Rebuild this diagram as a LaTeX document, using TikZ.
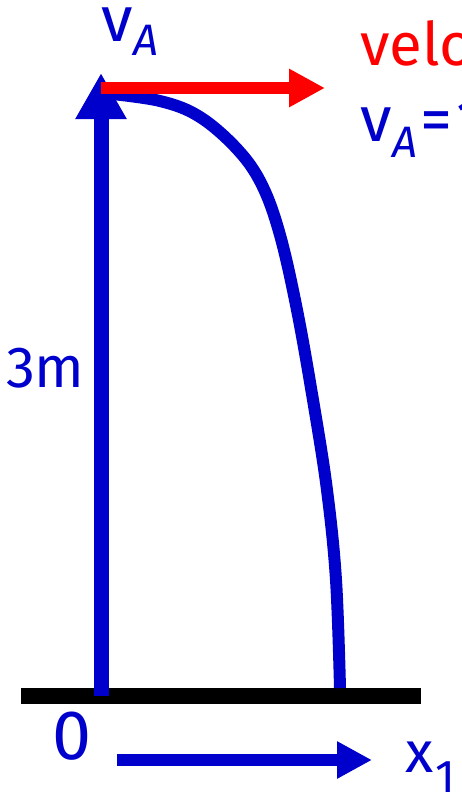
\documentclass[tikz,border=0pt]{standalone}
\usepackage{fontspec}
\setmainfont{Fira Sans}
\usetikzlibrary{arrows.meta}
\definecolor{dblue}{RGB}{0,0,204}
\definecolor{pred}{RGB}{255,0,0}
\newcommand{\fsz}[1]{\fontsize{#1}{#1}\selectfont}
\tikzset{
  lbl/.style={inner sep=0pt, outer sep=0pt, anchor=base west, text=dblue},
}
\begin{document}
\begin{tikzpicture}[x=1pt,y=-1pt]
\useasboundingbox (0,0) rectangle (462,793);
\clip (0,0) rectangle (462,793);
% coordinates
\coordinate (O) at (101,696);
\coordinate (Top) at (101,73);
\coordinate (Vstart) at (101,88);
\coordinate (Vtip) at (325,88);
\coordinate (Gl) at (21,696);
\coordinate (Gr) at (421,696);
\coordinate (Xs) at (117,760);
\coordinate (Xt) at (372,760);
% ground
\draw[line width=15.5pt] (Gl) -- (Gr);
% trajectory
\draw[draw=dblue, line width=12pt] plot[smooth, tension=0.6] coordinates {(103,93) (160,101) (200,117) (238,150) (262,185) (280,235) (297,310) (313,400) (327,490) (336,580) (340,688)};
% vertical arrow
\draw[draw=dblue, line width=15pt, -{Triangle[length=46pt,width=48pt]}] (O) -- (Top);
% velocity arrow
\draw[draw=pred, line width=12pt, -{Triangle[length=36pt,width=36pt]}] (Vstart) -- (Vtip);
% x arrow
\draw[draw=dblue, line width=12pt, -{Triangle[length=35pt,width=35pt]}] (Xs) -- (Xt);
% labels
\node[lbl] (vA) at (101,41) {\fsz{64}v\kern1pt\fsz{44}\itshape\raisebox{-14pt}{A}};
\node[lbl] (h) at (6,387) {\fsz{58}3m};
\node[lbl] (zero) at (52,759) {\fsz{70}0};
\node[lbl] (x1) at (405,772) {\fsz{58}x\kern2pt\fsz{46}\raisebox{-20pt}{1}};
\node[lbl, text=pred] (vel) at (360,65) {\fsz{60}velocity};
\node[lbl] (vAeq) at (360,141) {\fsz{64}v\kern1pt{\fsz{44}\itshape\raisebox{-16pt}{A}}\kern3pt\fsz{64}=\kern4pt 1};
\end{tikzpicture}
\end{document}
